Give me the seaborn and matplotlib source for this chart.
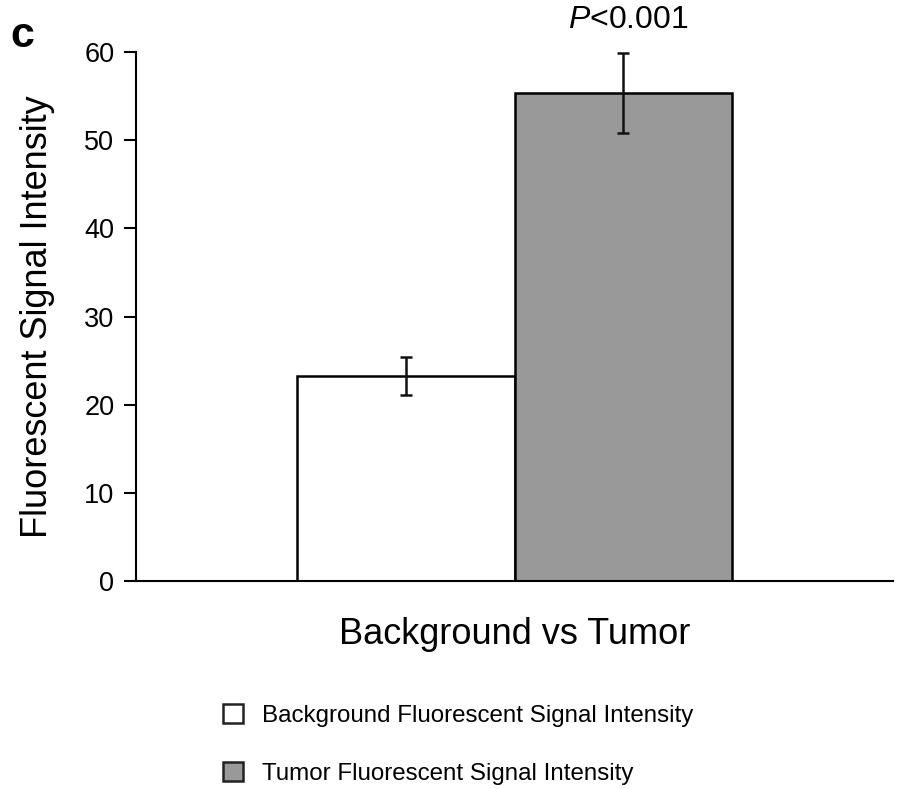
import numpy as np
import pandas as pd
import matplotlib
matplotlib.use("Agg")
import matplotlib.pyplot as plt
import matplotlib.patches as mpatches
import seaborn as sns

# data
group = ["Background vs Tumor", "Background vs Tumor"]
series = ["Background Fluorescent Signal Intensity", "Tumor Fluorescent Signal Intensity"]
means = [23.25, 55.35]
errors = [2.2, 4.55]
colors = ["#ffffff", "#999999"]
yticks = [0, 10, 20, 30, 40, 50, 60]

df = pd.DataFrame({"group": group, "series": series, "value": means})

sns.set_theme(style="white")
plt.rcParams["font.family"] = ["Liberation Sans", "DejaVu Sans"]
plt.rcParams["mathtext.fontset"] = "custom"
plt.rcParams["mathtext.rm"] = "Liberation Sans"
plt.rcParams["mathtext.it"] = "Liberation Sans:italic"
plt.rcParams["text.color"] = "black"
plt.rcParams["axes.labelcolor"] = "black"
plt.rcParams["ytick.color"] = "black"

fig = plt.figure(figsize=(9.03, 7.89), dpi=100)
ax = fig.add_axes([0.1506, 0.2636, 0.8384, 0.6704])

sns.barplot(data=df, x="group", y="value", hue="series", palette=colors,
            width=0.574, edgecolor="black", linewidth=1.8, ax=ax, legend=False)

# error bars at bar centres
for patch, err in zip(ax.patches, errors):
    xc = patch.get_x() + patch.get_width() / 2
    ax.errorbar(xc, patch.get_height(), yerr=err, fmt="none", ecolor="#111111",
                elinewidth=1.8, capsize=4.2, capthick=1.8)

tumor = ax.patches[1]
ax.text(tumor.get_x() + tumor.get_width() / 2 + 0.007, 63.6, r"$\mathit{P}$<0.001",
        ha="center", va="center", fontsize=23, clip_on=False)

ax.set_xlim(-0.5, 0.5)
ax.set_ylim(0, 60)
ax.set_yticks(yticks)
ax.set_xticks([])
ax.tick_params(axis="y", direction="out", length=8.6, width=1.5, labelsize=19.5,
               left=True, pad=7)
ax.set_ylabel("Fluorescent Signal Intensity", fontsize=26, labelpad=21)
ax.set_xlabel("Background vs Tumor", fontsize=26, labelpad=26)

sns.despine(ax=ax)
for s in ["left", "bottom"]:
    ax.spines[s].set_color("black")
    ax.spines[s].set_linewidth(1.5)

handles = [mpatches.Patch(facecolor=c, edgecolor="#222222", linewidth=1.8) for c in colors]
fig.legend(handles, series, loc="upper left", bbox_to_anchor=(0.247, 0.108),
           frameon=False, fontsize=17.4, handlelength=0.83, handleheight=0.83,
           handletextpad=0.78, labelspacing=1.45, borderpad=0, borderaxespad=0)

fig.text(0.011, 0.955, "c", fontsize=31, fontweight="bold", va="center")

fig.savefig("out.png", dpi=100)
